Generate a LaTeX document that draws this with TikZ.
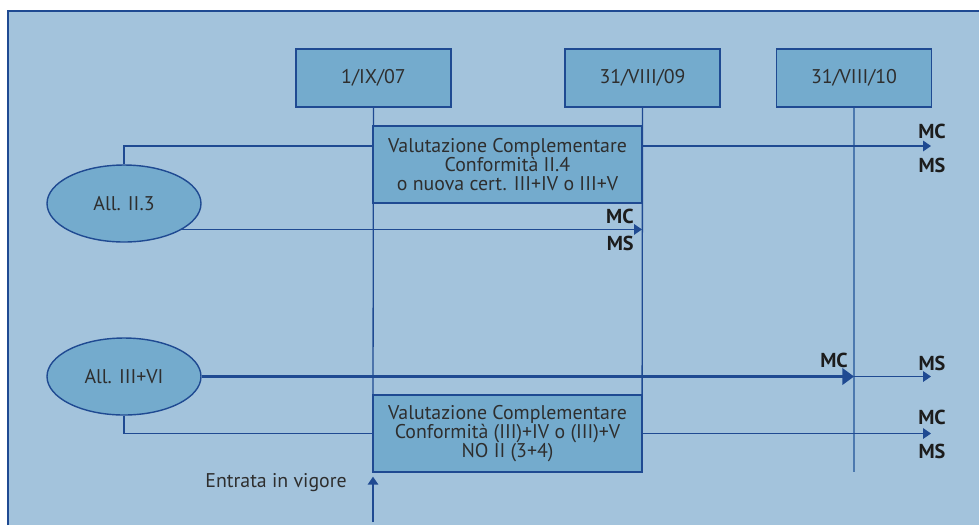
\documentclass[tikz,border=0pt]{standalone}
\usepackage{fontspec}
\setmainfont{PT Sans}
\usetikzlibrary{arrows.meta}
\usetikzlibrary{shapes.geometric}
\definecolor{bgblue}{HTML}{A3C3DC}
\definecolor{boxblue}{HTML}{74ABCD}
\definecolor{lineblue}{HTML}{1F4A92}
\definecolor{paleline}{HTML}{4C79AF}
\definecolor{textgray}{HTML}{2E2E2E}
\definecolor{tagblack}{HTML}{1C1C1C}
\tikzset{
date box/.style={draw=lineblue, line width=0.8pt, fill=boxblue, text=textgray,
    minimum width=3.1cm, minimum height=1.16cm, inner sep=0pt,
    font=\fontsize{11.3}{10.8}\selectfont},
eval box/.style={draw=lineblue, line width=0.8pt, fill=boxblue, text=textgray,
    minimum width=5.38cm, minimum height=1.54cm, inner sep=0pt, align=center,
    font=\fontsize{11.3}{10.8}\selectfont},
annex/.style={ellipse, draw=lineblue, line width=0.8pt, fill=boxblue, text=textgray,
    minimum width=3.08cm, minimum height=1.54cm, inner sep=0pt,
    font=\fontsize{11.3}{10.8}\selectfont},
link/.style={draw=lineblue, line width=0.75pt},
flow/.style={link, -{Triangle[length=4.5pt,width=6pt]}},
tag/.style={text=tagblack, inner sep=0pt, font=\fontsize{11.5}{11.5}\selectfont\bfseries},
}

\begin{document}
\begin{tikzpicture}[x=0.02cm, y=-0.02cm]
    \useasboundingbox (0,0) rectangle (979,525);
    \fill[white] (0,0) rectangle (979,525);
    \fill[bgblue] (8,11) rectangle (979,525);
    \draw[lineblue, line width=0.8pt] (8,525) -- (8,11) -- (979,11);
    % date boxes
    \node[date box] (d07) at (373.5,78) {1/IX/07};
    \node[date box] (d09) at (642.5,78) {31/VIII/09};
    \node[date box] (d10) at (854,78) {31/VIII/10};
    % vertical time lines
    \coordinate (low10) at (854,472);
    \draw[link] (d07.south) -- (373,395);
    \draw[link] (d09.south) -- (642,472);
    \draw[link, draw=paleline] (d10.south) -- (low10);
    % evaluation boxes
    \node[eval box] (v1) at (507.5,164.5) {Valutazione Complementare\\Conformità II.4\\o nuova cert. III+IV o III+V};
    \node[eval box] (v2) at (507.5,433.5) {Valutazione Complementare\\Conformità (III)+IV o (III)+V\\NO II (3+4)};
    % annexes
    \node[annex] (a23) at (124,203.5) {All. II.3};
    \node[annex] (a36) at (124,376.5) {All. III+VI};
    % connectors
    \coordinate (j1) at (373,146);
    \coordinate (e1) at (931,146);
    \coordinate (e2) at (642,229);
    \coordinate (e3) at (931,376.5);
    \coordinate (e4) at (931,433.5);
    \coordinate (base) at (373,522);
    \draw[link] (a23.north) |- (j1);
    \draw[flow] (v1.east |- j1) -- (e1);
    \draw[flow] (a23.-24) -- (a23.-24 -| e2);
    \draw[link, line width=1.2pt, -{Triangle[length=6.6pt,width=9.4pt]}] (a36.east) -- (a36.east -| low10);
    \draw[flow] (a36.east -| low10) -- (e3);
    \draw[link] (a36.south) |- (v2.west);
    \draw[flow] (v2.east) -- (e4);
    \draw[flow, shorten >=0.08cm] (base) -- (base |- v2.south);
    % labels
    \node[tag] (mc1) at (932,131) {MC};
    \node[tag] (ms1) at (932,165) {MS};
    \node[tag, anchor=east] (mc2) at (634,216) {MC};
    \node[tag, anchor=east] (ms2) at (634,243) {MS};
    \node[tag] (mc3) at (834,360) {MC};
    \node[tag] (ms3) at (932,363) {MS};
    \node[tag] (mc4) at (932,417) {MC};
    \node[tag] (ms4) at (932,451) {MS};
    \node[anchor=east, text=textgray, inner sep=0pt, font=\fontsize{11.3}{10.8}\selectfont] (eiv) at (347,483) {Entrata in vigore};
\end{tikzpicture}
\end{document}
